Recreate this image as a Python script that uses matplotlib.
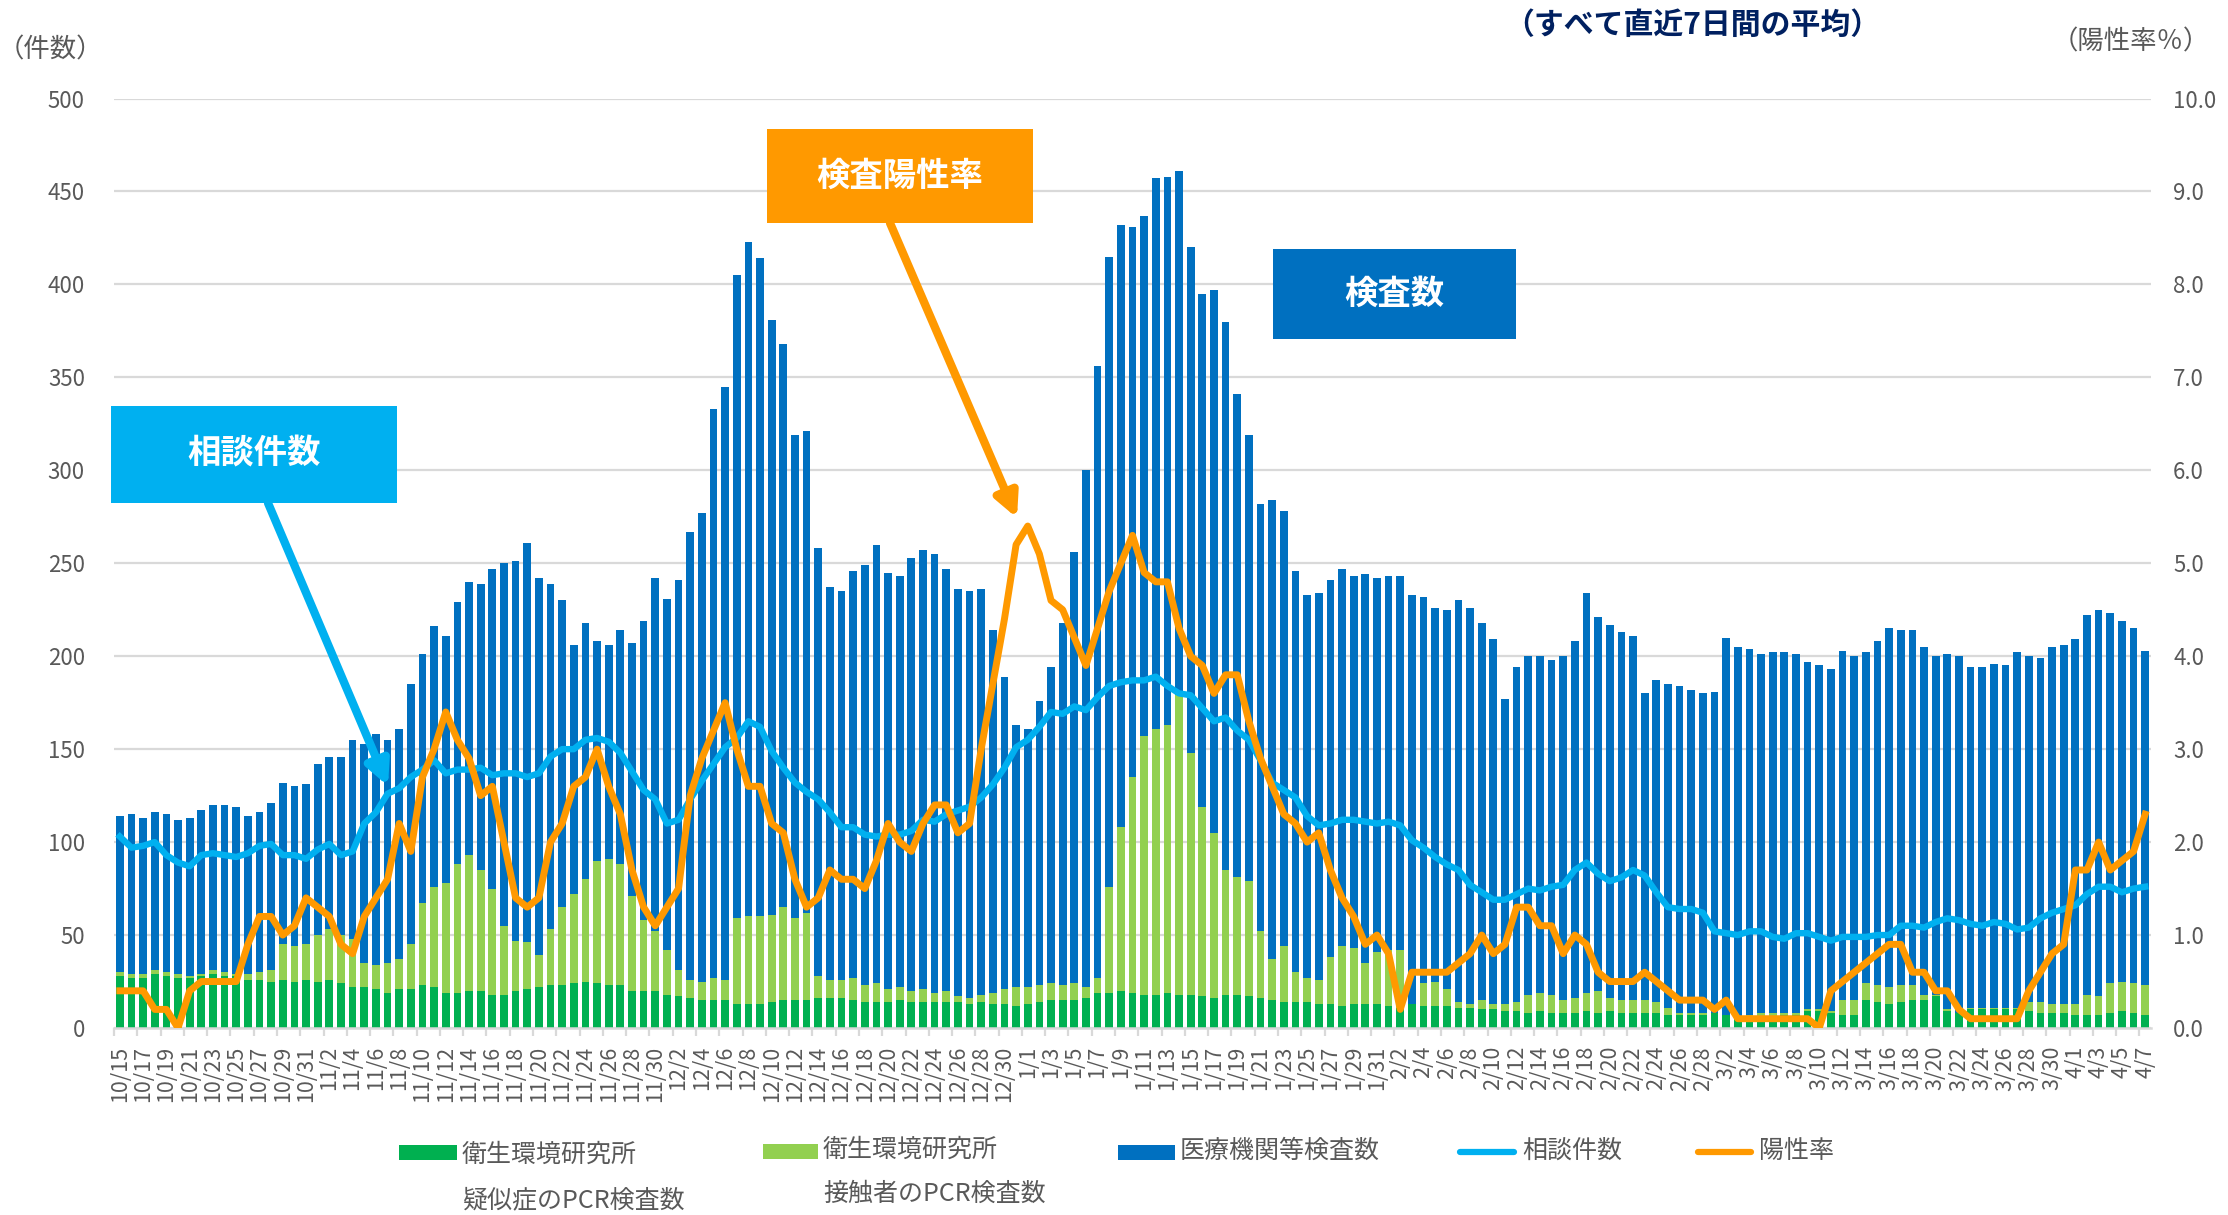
import numpy as np
import pandas as pd
import matplotlib
matplotlib.use("Agg")
import matplotlib.pyplot as plt
from matplotlib.patches import Rectangle, FancyArrowPatch
from matplotlib.lines import Line2D

plt.rcParams['font.family'] = ['Noto Sans CJK JP', 'DejaVu Sans']

W, H = 2228, 1215

# 7-day averages, 2020/10/15 .. 2021/4/7
dates = pd.date_range('2020-10-15', '2021-04-07', freq='D')
day_labels = [f"{d.month}/{d.day}" for d in dates]

# 衛生環境研究所 疑似症のPCR検査数
suspect = [
    28, 27, 27, 29, 28, 27, 27, 28, 29, 28, 28, 26, 26, 25, 26, 25, 26, 25, 26, 24, 22, 22, 21, 19, 21, 21, 23, 22, 19, 19,
    20, 20, 18, 18, 20, 21, 22, 23, 23, 24, 25, 24, 23, 23, 20, 20, 20, 18, 17, 16, 15, 15, 15, 13, 13, 13, 14, 15, 15,
    15, 16, 16, 16, 15, 14, 14, 14, 15, 14, 14, 14, 14, 14, 13, 14, 13, 13, 12, 13, 14, 15, 15, 15, 16, 19, 19, 20, 19,
    18, 18, 19, 18, 18, 17, 16, 18, 18, 17, 16, 15, 14, 14, 14, 13, 13, 12, 13, 13, 13, 12, 11, 13, 12, 12, 12, 11, 11, 10,
    10, 9, 9, 8, 9, 8, 8, 8, 9, 8, 9, 8, 8, 8, 8, 7, 7, 7, 7, 8, 7, 5, 5, 6, 6, 7, 7, 9, 9,
    8, 7, 7, 15, 14, 13, 14, 15, 15, 17, 9, 8, 10, 10, 10, 10, 10, 9, 8, 8, 8, 7, 7, 7, 8, 9, 8, 7,
]
# 衛生環境研究所 合計（疑似症＋接触者）
institute_total = [
    30, 29, 29, 31, 30, 29, 28, 29, 31, 30, 29, 29, 30, 31, 45, 44, 45, 50, 53, 50, 48, 35, 34, 35, 37, 45, 67, 76, 78, 88,
    93, 85, 75, 55, 47, 46, 39, 53, 65, 72, 80, 90, 91, 88, 71, 58, 52, 42, 31, 26, 25, 27, 26, 59, 60, 60, 61, 65, 59,
    62, 28, 26, 26, 27, 23, 24, 21, 22, 20, 21, 19, 20, 17, 16, 18, 19, 21, 22, 22, 23, 24, 23, 24, 22, 27, 76, 108, 135,
    157, 161, 163, 179, 148, 119, 105, 85, 81, 79, 52, 37, 44, 30, 27, 26, 38, 44, 43, 35, 41, 42, 42, 13, 24, 25, 21, 14, 13, 15,
    13, 13, 14, 18, 19, 18, 15, 16, 19, 20, 16, 15, 15, 15, 14, 11, 8, 8, 8, 8, 7, 6, 7, 8, 8, 8, 8, 10, 10,
    9, 15, 15, 24, 23, 22, 23, 23, 18, 18, 10, 8, 11, 11, 11, 11, 11, 14, 14, 13, 13, 13, 18, 17, 24, 25, 24, 23,
]
# 検査数 合計
total_tests = [
    114, 115, 113, 116, 115, 112, 113, 117, 120, 120, 119, 114, 116, 121, 132, 130, 131, 142, 146, 146, 155, 153, 158, 155, 161, 185, 201, 216, 211, 229,
    240, 239, 247, 250, 251, 261, 242, 239, 230, 206, 218, 208, 206, 214, 207, 219, 242, 231, 241, 267, 277, 333, 345, 405, 423, 414, 381, 368, 319,
    321, 258, 237, 235, 246, 249, 260, 245, 243, 253, 257, 255, 247, 236, 235, 236, 214, 189, 163, 161, 176, 194, 218, 256, 300, 356, 415, 432, 431,
    437, 457, 458, 461, 420, 395, 397, 380, 341, 319, 282, 284, 278, 246, 233, 234, 241, 247, 243, 244, 242, 243, 243, 233, 232, 226, 225, 230, 226, 218,
    209, 177, 194, 200, 200, 198, 200, 208, 234, 221, 217, 213, 211, 180, 187, 185, 184, 182, 180, 181, 210, 205, 204, 201, 202, 202, 201, 197, 195,
    193, 203, 200, 202, 208, 215, 214, 214, 205, 200, 201, 200, 194, 194, 196, 195, 202, 200, 199, 205, 206, 209, 222, 225, 223, 219, 215, 203,
]
# 相談件数
consult = [
    103, 97, 98, 100, 93, 89, 87, 93, 94, 93, 92, 94, 98, 99, 93, 93, 91, 96, 99, 93, 95, 110, 116, 126, 129, 135, 139, 144, 137, 139,
    139, 140, 136, 137, 137, 135, 137, 146, 150, 150, 155, 156, 154, 148, 138, 128, 123, 110, 112, 123, 133, 142, 151, 156, 165, 162, 149, 140, 132,
    127, 123, 116, 108, 108, 104, 103, 104, 104, 106, 112, 111, 115, 117, 119, 124, 131, 140, 151, 155, 162, 170, 169, 173, 171, 178, 184, 186, 187,
    187, 189, 184, 180, 179, 172, 165, 167, 160, 155, 144, 132, 128, 124, 114, 109, 110, 112, 112, 111, 110, 111, 109, 101, 97, 92, 88, 85, 77, 73,
    69, 69, 72, 75, 74, 76, 77, 85, 89, 83, 79, 81, 85, 82, 73, 65, 64, 64, 62, 52, 51, 50, 52, 52, 49, 48, 51, 51, 49,
    47, 49, 49, 49, 50, 50, 55, 55, 54, 57, 59, 58, 56, 55, 57, 56, 53, 54, 59, 62, 64, 66, 72, 76, 76, 73, 75, 76,
]
# 陽性率（％）
positive_rate = [
    0.4, 0.4, 0.4, 0.2, 0.2, 0.0, 0.4, 0.5, 0.5, 0.5, 0.5, 0.9, 1.2, 1.2, 1.0, 1.1, 1.4, 1.3, 1.2, 0.9, 0.8, 1.2, 1.4, 1.6, 2.2, 1.9, 2.7, 3.0, 3.4, 3.1,
    2.9, 2.5, 2.6, 2.0, 1.4, 1.3, 1.4, 2.0, 2.2, 2.6, 2.7, 3.0, 2.6, 2.3, 1.7, 1.3, 1.1, 1.3, 1.5, 2.5, 2.9, 3.2, 3.5, 3.0, 2.6, 2.6, 2.2, 2.1, 1.6,
    1.3, 1.4, 1.7, 1.6, 1.6, 1.5, 1.8, 2.2, 2.0, 1.9, 2.2, 2.4, 2.4, 2.1, 2.2, 3.0, 3.7, 4.4, 5.2, 5.4, 5.1, 4.6, 4.5, 4.2, 3.9, 4.3, 4.7, 5.0, 5.3,
    4.9, 4.8, 4.8, 4.3, 4.0, 3.9, 3.6, 3.8, 3.8, 3.3, 2.9, 2.6, 2.3, 2.2, 2.0, 2.1, 1.7, 1.4, 1.2, 0.9, 1.0, 0.8, 0.2, 0.6, 0.6, 0.6, 0.6, 0.7, 0.8, 1.0,
    0.8, 0.9, 1.3, 1.3, 1.1, 1.1, 0.8, 1.0, 0.9, 0.6, 0.5, 0.5, 0.5, 0.6, 0.5, 0.4, 0.3, 0.3, 0.3, 0.2, 0.3, 0.1, 0.1, 0.1, 0.1, 0.1, 0.1, 0.1, 0.0,
    0.4, 0.5, 0.6, 0.7, 0.8, 0.9, 0.9, 0.6, 0.6, 0.4, 0.4, 0.2, 0.1, 0.1, 0.1, 0.1, 0.1, 0.4, 0.6, 0.8, 0.9, 1.7, 1.7, 2.0, 1.7, 1.8, 1.9, 2.3,
]

suspect = np.array(suspect)
institute_total = np.array(institute_total)
total_tests = np.array(total_tests)
contact = institute_total - suspect
medical = total_tests - institute_total

DGREEN = '#00B050'
LGREEN = '#92D050'
BLUE = '#0070C0'
CYAN = '#00B0F0'
ORANGE = '#FF9900'
GRAY = '#595959'
GRID = '#D9D9D9'


def fx(px):
    return px / W


def fy(py):
    return 1 - py / H


fig = plt.figure(figsize=(W / 100, H / 100), dpi=100)
ax = fig.add_axes([fx(114), fy(1028), (2151 - 114) / W, (1028 - 98.5) / H])

n = len(dates)
x = np.arange(n)
bw = 0.66
ax.bar(x, suspect, width=bw, color=DGREEN, zorder=2)
ax.bar(x, contact, width=bw, bottom=suspect, color=LGREEN, zorder=2)
ax.bar(x, medical, width=bw, bottom=institute_total, color=BLUE, zorder=2)
ax.plot(x, consult, color=CYAN, lw=4.6, zorder=3)

ax2 = ax.twinx()
ax2.plot(x, positive_rate, color=ORANGE, lw=5.0, zorder=4)

ax.set_xlim(-0.5, n - 0.5)
ax.set_ylim(0, 500)
ax2.set_ylim(0, 10)

ax.set_yticks(range(0, 501, 50))
ax2.set_yticks(np.arange(0, 10.01, 1.0))
ax2.set_yticklabels([f"{v:.1f}" for v in np.arange(0, 10.01, 1.0)])

ax.yaxis.grid(True, color=GRID, lw=1.6)
ax.set_axisbelow(True)

for a in (ax, ax2):
    for s in ('top', 'left', 'right'):
        a.spines[s].set_visible(False)
ax2.spines['bottom'].set_visible(False)
ax.spines['bottom'].set_color(GRID)
ax.spines['bottom'].set_linewidth(1.8)

ax.set_xticks(x[::2])
ax.set_xticklabels(day_labels[::2], rotation=90)
ax.set_xticks(np.arange(-0.5, n, 2), minor=True)
ax.tick_params(axis='x', which='major', length=0, pad=13, labelsize=15.5, labelcolor=GRAY)
ax.tick_params(axis='x', which='minor', length=6, width=1.6, color=GRID)
ax.tick_params(axis='y', length=0, pad=21, labelsize=16, labelcolor=GRAY)
ax2.tick_params(axis='y', length=0, pad=16, labelsize=16, labelcolor=GRAY)

# axis captions and title
fig.text(fx(50), fy(50), '（件数）', ha='center', va='center', fontsize=19, color=GRAY)
fig.text(fx(2131), fy(42), '（陽性率％）', ha='center', va='center', fontsize=19, color=GRAY)
fig.text(fx(1692), fy(25), '（すべて直近7日間の平均）', ha='center', va='center',
         fontsize=21.5, fontweight='bold', color='#002060')


def label_box(x0, y0, x1, y1, color, text):
    fig.add_artist(Rectangle((fx(x0), fy(y1)), (x1 - x0) / W, (y1 - y0) / H,
                             transform=fig.transFigure, facecolor=color, edgecolor='none', zorder=10))
    fig.text(fx((x0 + x1) / 2), fy((y0 + y1) / 2), text, ha='center', va='center',
             fontsize=24, fontweight='bold', color='white', zorder=11)


def arrow(x0, y0, x1, y1, color):
    fig.add_artist(FancyArrowPatch((fx(x0), fy(y0)), (fx(x1), fy(y1)), transform=fig.transFigure,
                                   arrowstyle='-|>,head_length=0.7,head_width=0.35', mutation_scale=20,
                                   lw=6, color=color, shrinkA=0, shrinkB=0, zorder=10))


label_box(111, 406, 397, 503, CYAN, '相談件数')
arrow(268, 503, 388, 786, CYAN)
label_box(767, 129, 1033, 223, ORANGE, '検査陽性率')
arrow(890, 223, 1017, 518, ORANGE)
label_box(1273, 249, 1516, 339, BLUE, '検査数')

# legend
def legend_patch(x0, x1, yc, color):
    fig.add_artist(Rectangle((fx(x0), fy(yc + 7.5)), (x1 - x0) / W, 15 / H,
                             transform=fig.transFigure, facecolor=color, edgecolor='none'))


def legend_line(x0, x1, yc, color):
    fig.add_artist(Line2D([fx(x0), fx(x1)], [fy(yc), fy(yc)], transform=fig.transFigure,
                          color=color, lw=4.5, solid_capstyle='round'))


def legend_text(xl, yc, text):
    fig.text(fx(xl), fy(yc), text, ha='left', va='center', fontsize=18, color=GRAY)


legend_patch(399, 457, 1152, DGREEN)
legend_text(462, 1155, '衛生環境研究所')
legend_text(462, 1200, '疑似症のPCR検査数')
legend_patch(763, 818, 1151, LGREEN)
legend_text(823, 1150, '衛生環境研究所')
legend_text(823, 1194, '接触者のPCR検査数')
legend_patch(1118, 1175, 1152, BLUE)
legend_text(1180, 1151, '医療機関等検査数')
legend_line(1460, 1514, 1152, CYAN)
legend_text(1522, 1151, '相談件数')
legend_line(1698, 1751, 1152, ORANGE)
legend_text(1759, 1151, '陽性率')

fig.savefig('out.png', dpi=100)
